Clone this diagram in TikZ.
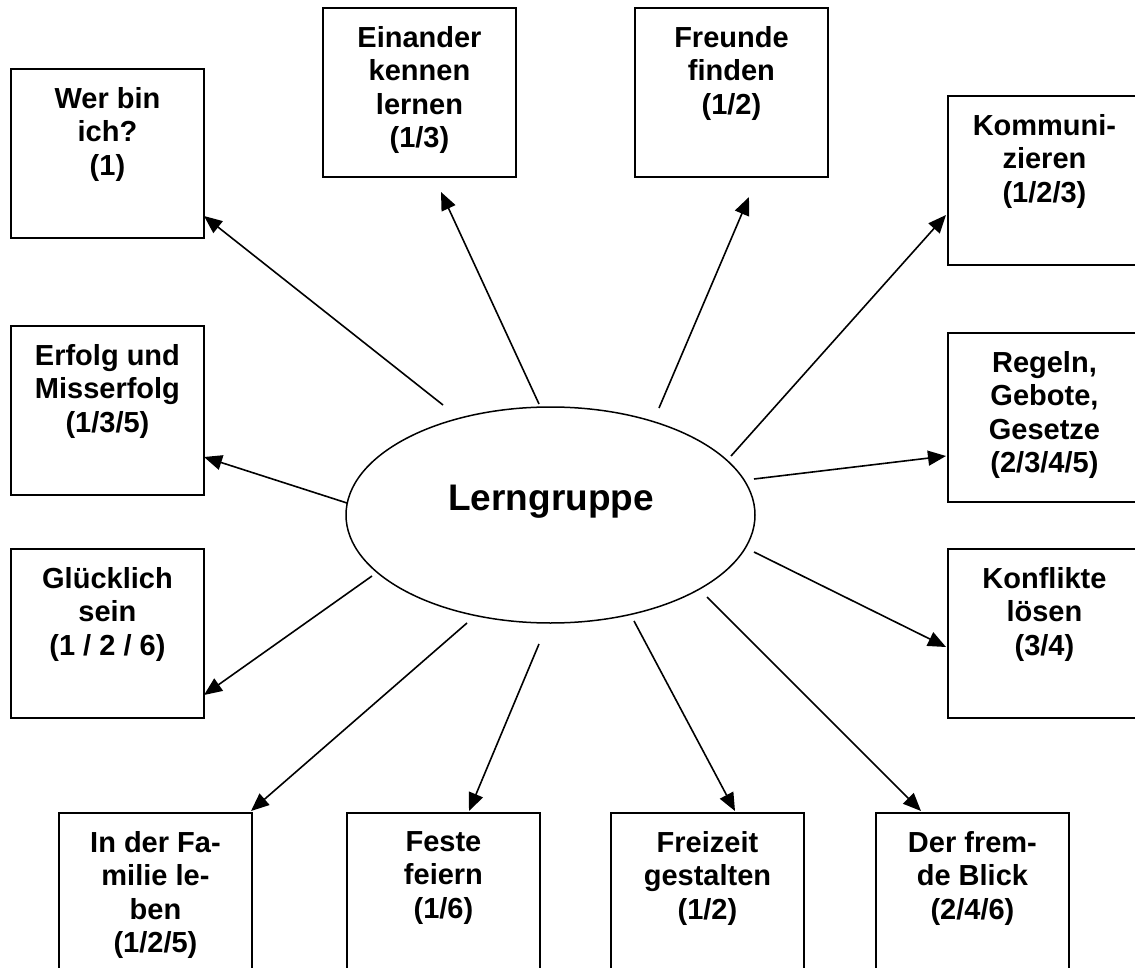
\documentclass[tikz,border=0pt]{standalone}
\usepackage{fontspec}
\setmainfont{Liberation Sans}
\usetikzlibrary{arrows.meta,shapes.geometric}
\tikzset{
  box/.style={draw, line width=1.9pt, minimum width=193pt, minimum height=169pt, inner sep=0pt, anchor=north west},
  txt/.style={font=\bfseries\fontsize{29}{33.5}\selectfont, align=center, anchor=north, inner sep=0pt},
  arr/.style={line width=1.6pt, -{Triangle[length=18pt,width=15pt]}},
}
\begin{document}
\begin{tikzpicture}[x=1pt,y=-1pt]
\useasboundingbox (0,0) rectangle (1135,968);
\clip (0,0) rectangle (1135,968);
% boxes
\node[box] (wer) at (10,68) {};
\node[box] (ein) at (322,7) {};
\node[box] (fre) at (634,7) {};
\node[box] (kom) at (947,95) {};
\node[box] (erf) at (10,325) {};
\node[box] (reg) at (947,332) {};
\node[box] (glu) at (10,548) {};
\node[box] (kon) at (947,548) {};
\node[box] (fam) at (58,812) {};
\node[box] (fes) at (346,812) {};
\node[box] (frz) at (610,812) {};
\node[box] (blk) at (875,812) {};
% texts
\node[txt] (werT) at ([yshift=-19pt]wer.north) {Wer bin\\ich?\\(1)};
\node[txt] (einT) at ([yshift=-19pt]ein.north) {Einander\\kennen\\lernen\\(1/3)};
\node[txt] (freT) at ([yshift=-19pt]fre.north) {Freunde\\finden\\(1/2)};
\node[txt] (komT) at ([yshift=-19pt]kom.north) {Kommuni-\\zieren\\(1/2/3)};
\node[txt] (erfT) at ([yshift=-19pt]erf.north) {Erfolg und\\Misserfolg\\(1/3/5)};
\node[txt] (regT) at ([yshift=-19pt]reg.north) {Regeln,\\Gebote,\\Gesetze\\(2/3/4/5)};
\node[txt] (gluT) at ([yshift=-19pt]glu.north) {Glücklich\\sein\\(1 / 2 / 6)};
\node[txt] (konT) at ([yshift=-19pt]kon.north) {Konflikte\\lösen\\(3/4)};
\node[txt] (famT) at ([yshift=-19pt]fam.north) {In der Fa-\\milie le-\\ben\\(1/2/5)};
\node[txt] (fesT) at ([yshift=-19pt]fes.north) {Feste\\feiern\\(1/6)};
\node[txt] (frzT) at ([yshift=-19pt]frz.north) {Freizeit\\gestalten\\(1/2)};
\node[txt] (blkT) at ([yshift=-19pt]blk.north) {Der frem-\\de Blick\\(2/4/6)};
% centre
\node[draw, ellipse, line width=1.5pt, minimum width=409pt, minimum height=216pt, inner sep=0pt] (lg) at (550.5,515) {};
\node[font=\bfseries\fontsize{37}{40}\selectfont, anchor=base, inner sep=0pt] (lgT) at (551,510) {Lerngruppe};
% connector ends
\coordinate (s1) at (443,405);  \coordinate (t1) at (204,216);
\coordinate (s2) at (539,404);  \coordinate (t2) at (441,192);
\coordinate (s3) at (659,408);  \coordinate (t3) at (749,197);
\coordinate (s4) at (731,456);  \coordinate (t4) at (946,215);
\coordinate (s5) at (754,479);  \coordinate (t5) at (946,456);
\coordinate (s6) at (754,552);  \coordinate (t6) at (946,647);
\coordinate (s7) at (707,597);  \coordinate (t7) at (921,811);
\coordinate (s8) at (634,621);  \coordinate (t8) at (735,811);
\coordinate (s9) at (539,644);  \coordinate (t9) at (469,811);
\coordinate (s10) at (467,623); \coordinate (t10) at (251,811);
\coordinate (s11) at (372,576); \coordinate (t11) at (204,695);
\coordinate (s12) at (347,503); \coordinate (t12) at (204,457);
\foreach \i in {1,...,12} {\draw[arr] (s\i) -- (t\i);}
\end{tikzpicture}
\end{document}
